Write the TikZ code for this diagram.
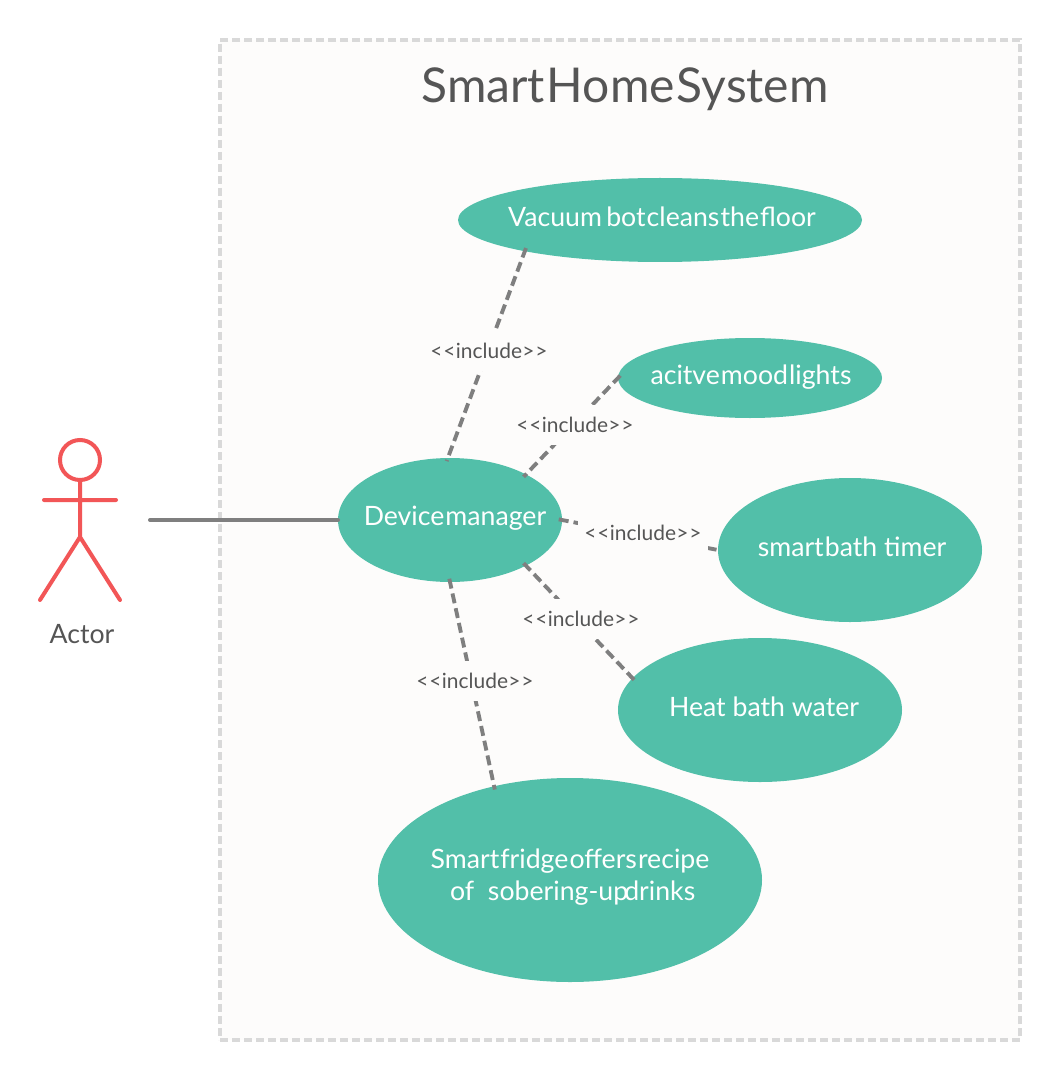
\documentclass[tikz,border=0pt]{standalone}
\usepackage{fontspec}
\setmainfont{Lato}
\usetikzlibrary{shapes.geometric}
\definecolor{teal1}{HTML}{52BFA9}
\definecolor{bgc}{HTML}{FDFCFB}
\definecolor{frame1}{HTML}{D9D9D9}
\definecolor{link1}{HTML}{7F7F7F}
\definecolor{red1}{HTML}{F25657}
\definecolor{ink}{HTML}{555555}
\newcommand{\tight}[1]{{\spaceskip=.04em\relax #1}}
\newcommand{\incl}{<\kern.04em<\kern.02em include\kern.02em>\kern.04em>}
\tikzset{
  x=0.75pt,y=-0.75pt,
  uc/.style={ellipse,fill=teal1,draw=none,inner sep=0pt,outer sep=0pt},
  uctext/.style={text=white,font=\fontsize{20}{24}\selectfont,align=center,inner sep=0pt},
  dep/.style={draw=link1,line width=2.9pt,dash pattern=on 7.5pt off 3.8pt,line cap=butt,shorten >=-2.5pt,shorten <=-2.5pt},
  lab/.style={fill=bgc,text=ink,font=\fontsize{15.7}{18}\selectfont,minimum width=97pt,minimum height=30pt,inner sep=0pt},
  actorline/.style={draw=red1,line width=3pt,line cap=round,line join=round},
  assoc/.style={draw=link1,line width=3pt,line cap=round},
}
\begin{document}
\begin{tikzpicture}
\useasboundingbox (0,0) rectangle (1060,1080);
\fill[white] (0,0) rectangle (1060,1080);
\node[draw=frame1,fill=bgc,line width=2.6pt,dash pattern=on 6pt off 3pt,minimum width=600pt,minimum height=750pt,inner sep=0pt,outer sep=0pt] (sys) at (620,540) {};
\node[text=ink,font=\fontsize{36}{42}\selectfont,inner sep=0pt] (title) at (625,89) {\tight{Smart Home System}};

\node[uc,minimum width=303pt,minimum height=63pt] (vac) at (660,220) {};
\node[uc,minimum width=198pt,minimum height=60pt] (mood) at (750,378) {};
\node[uc,minimum width=168pt,minimum height=93pt] (dm) at (450,520) {};
\node[uc,minimum width=198pt,minimum height=108pt] (bath) at (850,550) {};
\node[uc,minimum width=213pt,minimum height=108pt] (heat) at (760,710) {};
\node[uc,minimum width=288pt,minimum height=153pt] (fridge) at (570,880) {};

\node[uctext] (vact) at (662,217) {{\spaceskip=.16em\relax Vacuum }\tight{bot cleans the floor}};
\node[uctext] (moodt) at (751,377) {\tight{acitve mood lights}};
\node[uctext] (dmt) at (455,518) {\tight{Device manager}};
\node[uctext] (batht) at (852,547) {\tight{smart bath} timer};
\node[uctext] (heatt) at (764,707) {Heat bath water};
\node[uctext] (fridget) at (570,877) {\tight{Smart fridge offers recipe}\\\hspace*{.2em}of\ \ {\spaceskip=-.15em\relax sobering-up drinks}};

\draw[dep] (vac.193.4) -- (dm.92.7);
\node[lab] (l1) at (489,351) {\incl};
\draw[dep] (mood.180) -- (dm.31.4);
\node[lab] (l2) at (575,425) {\incl};
\draw[dep] (dm.0) -- (bath.180);
\node[lab] (l3) at (643,533) {\incl};
\draw[dep] (dm.-31) -- (heat.166.5);
\node[lab] (l4) at (581,619) {\incl};
\draw[dep] (dm.-90) -- (fridge.129.6);
\node[lab] (l5) at (475,681) {\incl};

\node[circle,draw=red1,line width=3pt,minimum size=30pt,inner sep=0pt,outer sep=0pt] (head) at (80,460) {};
\coordinate (hip) at (80,537);
\coordinate (arml) at (44,500);
\coordinate (armr) at (116,500);
\coordinate (legl) at (40,600);
\coordinate (legr) at (120,600);
\coordinate (actorhand) at (150,520);
\draw[actorline] (head.south) -- (hip) (arml) -- (armr) (legl) -- (hip) -- (legr);
\node[text=ink,font=\fontsize{20}{24}\selectfont,inner sep=0pt] (actor) at (82,634) {Actor};
\draw[assoc] (actorhand) -- (dm.west);
\end{tikzpicture}
\end{document}
